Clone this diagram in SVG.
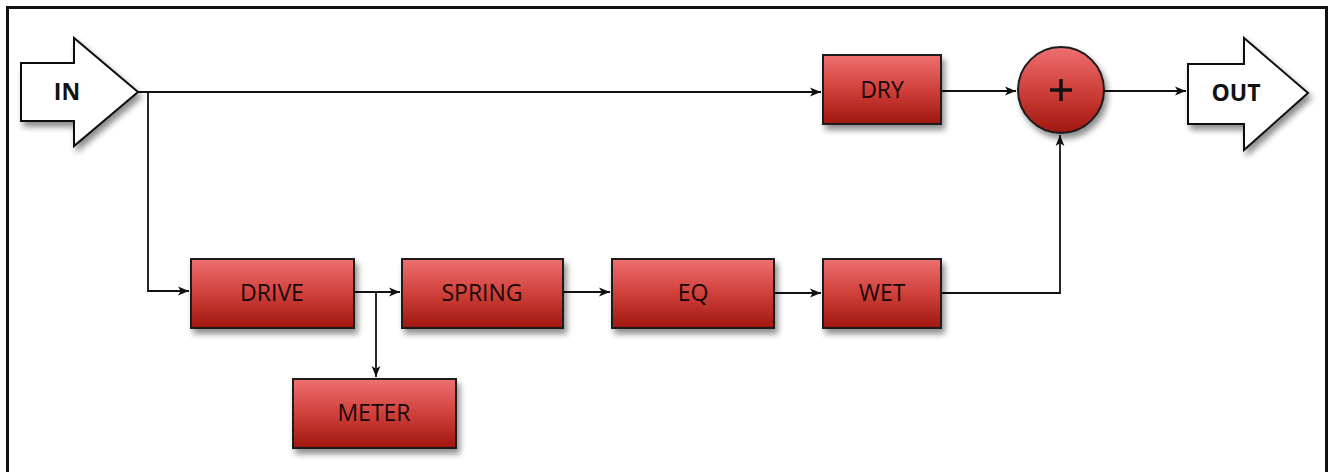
<svg xmlns="http://www.w3.org/2000/svg" width="1331" height="472" viewBox="0 0 1331 472">
<defs>
<linearGradient id="red" x1="0" y1="0" x2="0" y2="1">
<stop offset="0" stop-color="#ee7070"/>
<stop offset="0.5" stop-color="#d0403b"/>
<stop offset="1" stop-color="#a0170f"/>
</linearGradient>
<filter id="sh" x="-20%" y="-20%" width="150%" height="160%">
<feGaussianBlur in="SourceAlpha" stdDeviation="3"/>
<feOffset dx="3" dy="5" result="b"/>
<feComponentTransfer><feFuncA type="linear" slope="0.45"/></feComponentTransfer>
<feMerge><feMergeNode/><feMergeNode in="SourceGraphic"/></feMerge>
</filter>
<marker id="ah" viewBox="0 0 10 10" refX="10" refY="5" markerWidth="11" markerHeight="11" markerUnits="userSpaceOnUse" orient="auto">
<path d="M0,1 L10,5 L0,9 L2.5,5 Z" fill="#111"/>
</marker>
</defs>
<style>
.box{fill:url(#red);stroke:#1a1a1a;stroke-width:2;filter:url(#sh)}
.lbl{font-family:"Open Sans","Liberation Sans",sans-serif;font-size:23px;fill:#150808;text-anchor:middle}
.io{fill:#fff;stroke:#111;stroke-width:2;stroke-linejoin:miter;filter:url(#sh)}
.iot{font-family:"Open Sans","Liberation Sans",sans-serif;font-weight:bold;font-size:23px;fill:#111;text-anchor:middle}
.c{fill:none;stroke:#111;stroke-width:1.8}
</style>
<rect x="0" y="0" width="1331" height="472" fill="#fff"/>
<path d="M7.5,480 V7.5 H1326.5 V480" fill="none" stroke="#111" stroke-width="3"/>
<g id="connectors">
<path class="c" d="M138,92 H821" marker-end="url(#ah)"/>
<path class="c" d="M148,92 V291 H189" marker-end="url(#ah)"/>
<path class="c" d="M941,91 H1016" marker-end="url(#ah)"/>
<path class="c" d="M1104,91 H1186" marker-end="url(#ah)"/>
<path class="c" d="M354,292 H400" marker-end="url(#ah)"/>
<path class="c" d="M376,292 V377" marker-end="url(#ah)"/>
<path class="c" d="M563,292 H610" marker-end="url(#ah)"/>
<path class="c" d="M774,293 H821" marker-end="url(#ah)"/>
<path class="c" d="M941,293 H1060 V135" marker-end="url(#ah)"/>
</g>
<g id="in">
<path class="io" d="M21,63 H74 V38 L138,92 L74,146 V121 H21 Z"/>
<text class="iot" x="67" y="100">IN</text>
</g>
<g id="dry">
<rect class="box" x="823" y="55" width="118" height="69"/>
<text class="lbl" x="882" y="98">DRY</text>
</g>
<g id="sum">
<circle cx="1061" cy="90" r="43" fill="url(#red)" stroke="#1a1a1a" stroke-width="2" filter="url(#sh)"/>
<path d="M1061,79 V101 M1050,90 H1072" stroke="#111" stroke-width="3.5"/>
</g>
<g id="out">
<path class="io" d="M1188,64 H1244 V38 L1308,93 L1244,150 V124 H1188 Z"/>
<text class="iot" x="1236" y="101">OUT</text>
</g>
<g id="drive">
<rect class="box" x="191" y="259" width="163" height="69"/>
<text class="lbl" x="272" y="301">DRIVE</text>
</g>
<g id="spring">
<rect class="box" x="402" y="259" width="161" height="69"/>
<text class="lbl" x="482" y="301">SPRING</text>
</g>
<g id="eq">
<rect class="box" x="612" y="259" width="162" height="69"/>
<text class="lbl" x="693" y="301">EQ</text>
</g>
<g id="wet">
<rect class="box" x="823" y="259" width="118" height="69"/>
<text class="lbl" x="882" y="301">WET</text>
</g>
<g id="meter">
<rect class="box" x="293" y="379" width="163" height="69"/>
<text class="lbl" x="374" y="421">METER</text>
</g>
</svg>
